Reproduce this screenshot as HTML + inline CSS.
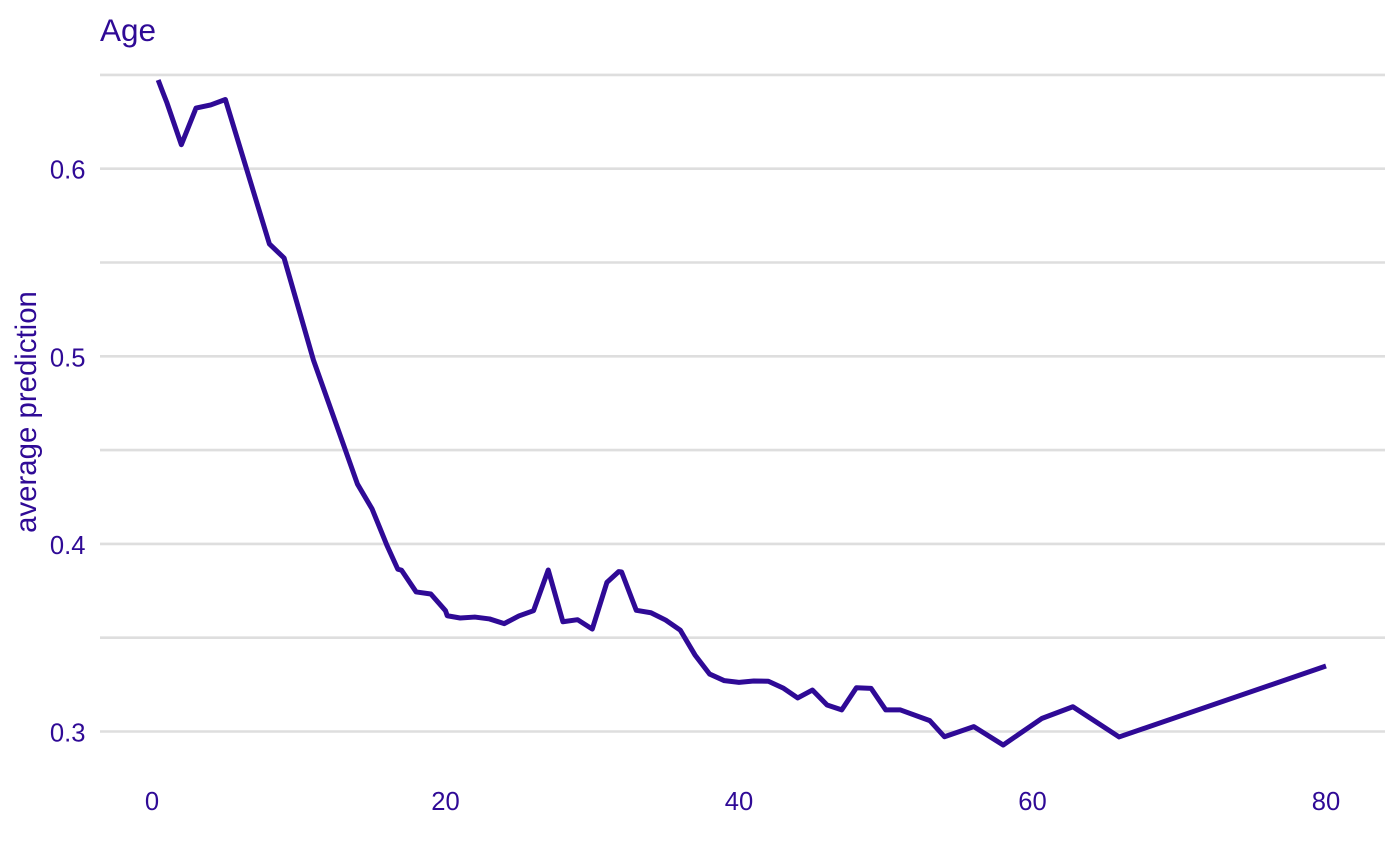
<!DOCTYPE html>
<html lang="en">
<head>
<meta charset="utf-8">
<title>Age - average prediction</title>
<style>
  html, body { margin: 0; padding: 0; background: #ffffff; }
  #chart { display: block; width: 1400px; height: 866px; }
  text { font-family: "Liberation Sans", Arial, sans-serif; fill: #2f0a96; }
</style>
</head>
<body>
<svg id="chart" xmlns="http://www.w3.org/2000/svg" width="1400" height="866" viewBox="0 0 1400 866">
  <rect x="0" y="0" width="1400" height="866" fill="#ffffff"></rect>
  <g id="grid"></g>
  <g id="y-ticks"></g>
  <g id="x-ticks"></g>
  <path id="series" fill="none" stroke="#2f0a96" stroke-width="5" stroke-linejoin="round" stroke-linecap="butt"></path>
  <text x="100" y="41" font-size="31.5">Age</text>
  <text transform="translate(36 412) rotate(-90)" text-anchor="middle" font-size="29.4">average prediction</text>
</svg>
<script>
const ages = [0.42, 0.75, 1, 2, 3, 4, 5, 8, 9, 11, 14, 15, 16, 16.75, 17, 18, 19, 20, 20.12, 21, 22, 23, 24, 25, 26, 27, 28, 29, 30, 31, 31.8, 32, 33, 34, 35, 36, 37, 38, 39, 40, 41, 42, 43, 44, 45, 46, 47, 48, 49, 50, 51, 53, 54, 56, 58, 60.65, 62.75, 65.9, 80];
const predictions = [0.6473, 0.6405, 0.6355, 0.6128, 0.6323, 0.634, 0.6369, 0.5599, 0.5524, 0.498, 0.4319, 0.4186, 0.3994, 0.3865, 0.386, 0.3744, 0.3733, 0.3644, 0.3617, 0.3605, 0.361, 0.36, 0.3575, 0.3616, 0.3644, 0.3861, 0.3585, 0.3596, 0.3546, 0.3795, 0.3852, 0.385, 0.3646, 0.3633, 0.3594, 0.354, 0.3408, 0.3306, 0.3271, 0.3262, 0.3269, 0.3268, 0.3232, 0.3179, 0.3221, 0.3141, 0.3115, 0.3233, 0.323, 0.3115, 0.3115, 0.3058, 0.2972, 0.3026, 0.2928, 0.307, 0.3132, 0.2971, 0.3349];
const xTicks = [0, 20, 40, 60, 80];
const yMajorTicks = [0.3, 0.4, 0.5, 0.6];
const yMinorTicks = [0.35, 0.45, 0.55, 0.65];

function xScale(v) { return 152 + v * 14.675; }
function yScale(v) { return 731.5 - (v - 0.3) * 1876; }

const svgNS = 'http://www.w3.org/2000/svg';
const grid = document.getElementById('grid');
const yTickGroup = document.getElementById('y-ticks');
const xTickGroup = document.getElementById('x-ticks');

yMajorTicks.concat(yMinorTicks).forEach(function (v) {
  const line = document.createElementNS(svgNS, 'line');
  
  
  line.setAttribute('x1', 100);
  line.setAttribute('x2', 1385);
  line.setAttribute('y1', yScale(v));
  line.setAttribute('y2', yScale(v));
  line.setAttribute('stroke', '#dedede');
  line.setAttribute('stroke-width', 2.6);
  grid.appendChild(line);
});

yMajorTicks.forEach(function (v) {
  const t = document.createElementNS(svgNS, 'text');
  
  
  t.setAttribute('x', 85.5);
  t.setAttribute('y', yScale(v) + 10);
  t.setAttribute('text-anchor', 'end');
  t.setAttribute('font-size', 25.6);
  t.textContent = v.toFixed(1);
  yTickGroup.appendChild(t);
});

xTicks.forEach(function (v) {
  const t = document.createElementNS(svgNS, 'text');
  
  
  t.setAttribute('x', xScale(v));
  t.setAttribute('y', 810);
  t.setAttribute('text-anchor', 'middle');
  t.setAttribute('font-size', 25.6);
  t.textContent = String(v);
  xTickGroup.appendChild(t);
});

const seriesPath = ages.map(function (a, i) {
  return (i === 0 ? 'M' : 'L') + xScale(a).toFixed(2) + ' ' + yScale(predictions[i]).toFixed(2);
}).join(' ');
document.getElementById('series').setAttribute('d', seriesPath);
</script>
</body>
</html>
